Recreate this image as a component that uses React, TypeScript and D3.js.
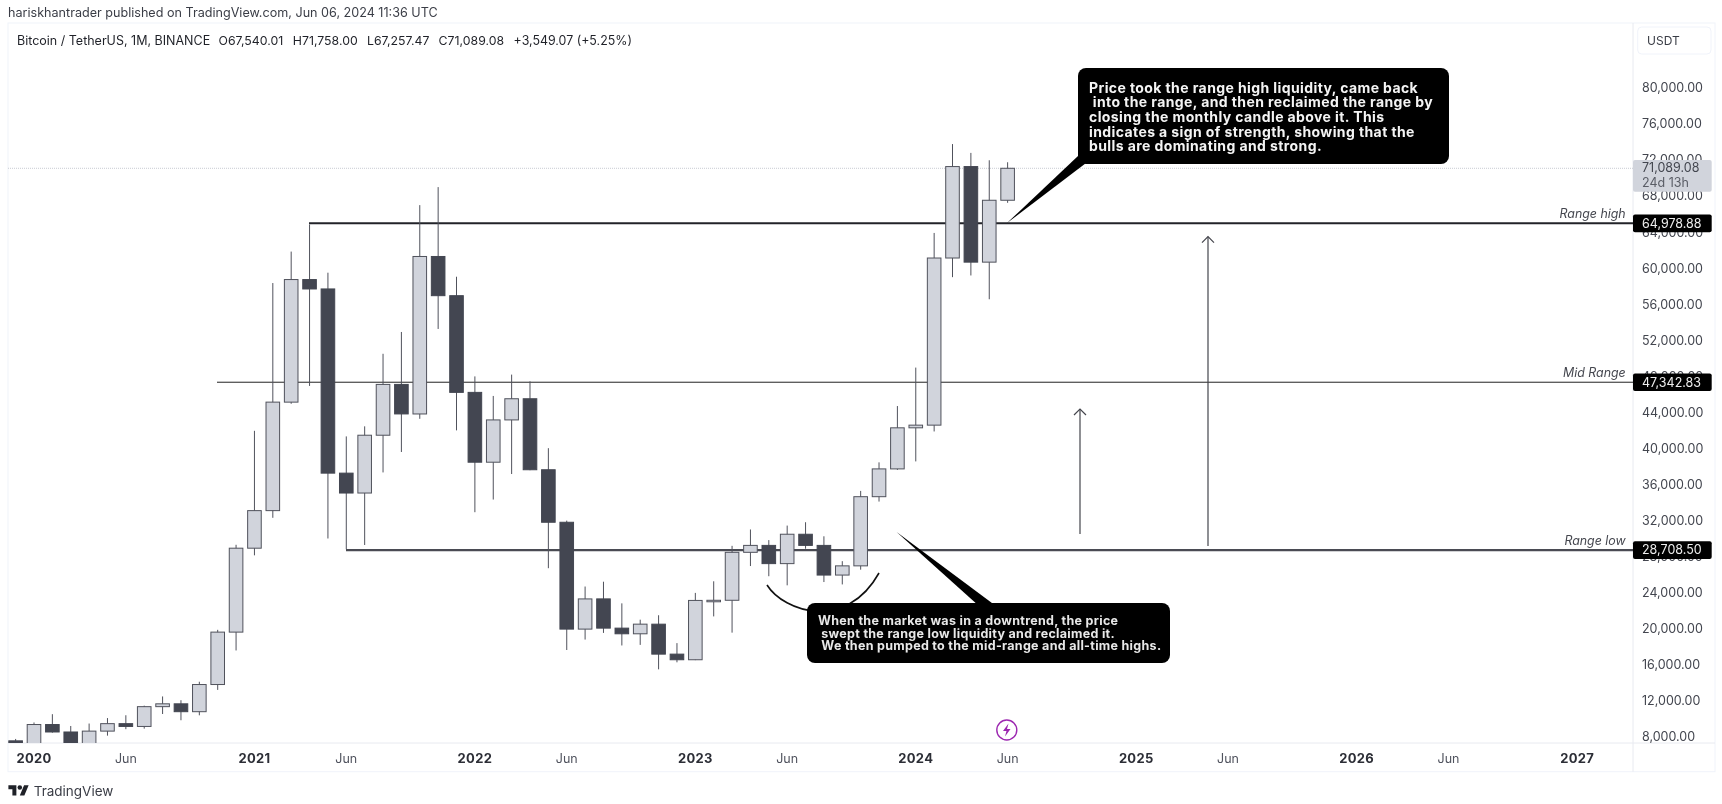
import React from "react";
import * as d3 from "d3";

const opens = [7541,7195,9351,8523,6412,8620,9448,9138,11335,11649,10776,13791,19608,28923,33092,45134,58739,57697,37253,35045,41461,47100,43820,61300,56950,46217,38466,43160,45510,37630,31801,19942,23296,20050,19422,20490,17165,16541,23125,23142,28465,29233,27210,30471,29232,25940,26962,34639,37723,42283,42580,61130,71280,60672,67540];
const highs = [7750,9578,10500,9188,9460,10067,10380,11444,12468,12050,14100,19863,29300,41950,58352,61844,64854,59500,41330,42448,50500,52920,67000,69000,59053,47990,45821,48189,47444,40023,31982,24668,25202,22800,20988,21480,18387,23960,25250,29184,31000,29820,31431,31804,30244,27483,35280,38450,44700,48969,63913,73777,72797,71979,71758];
const lows = [6435,6926,8445,3782,6150,8117,8833,8893,10518,9825,10374,13195,17572,28130,32296,44950,46930,30000,28805,29278,37332,39600,43283,53256,42000,32917,34322,37155,37578,26700,17622,18781,19520,18125,18190,15476,16256,16499,21351,19549,26942,25811,24800,28861,25166,24901,26538,34097,37615,38555,41879,59005,59191,56552,67257];
const closes = [7195,9352,8523,6410,8620,9448,9138,11335,11649,10776,13791,19608,28923,33092,45135,58740,57694,37253,35045,41461,47100,43824,61300,56950,46217,38466,43160,45510,37630,31801,19942,23293,20050,19423,20491,17164,16542,23125,23142,28465,29233,27210,30472,29232,25940,26962,34639,37723,42283,42580,61130,71280,60672,67540,71089];
const firstMonthIndex = -1;

const priceTicks = [80000,76000,72000,68000,64000,60000,56000,52000,48000,44000,40000,36000,32000,28000,24000,20000,16000,12000,8000];
const yearLabels = ["2020","2021","2022","2023","2024","2025","2026","2027"];
const midYearLabel = "Jun";
const rangeNames = ["Range high","Mid Range","Range low"];
const rangeValues = [64978.88,47342.83,28708.5];
const lastClose = 71089.08;
const calloutTop = [
  "Price took the range high liquidity, came back",
  " into the range, and then reclaimed the range by",
  "closing the monthly candle above it. This",
  "indicates a sign of strength, showing that the",
  "bulls are dominating and strong.",
];
const calloutBottom = [
  "When the market was in a downtrend, the price",
  " swept the range low liquidity and reclaimed it.",
  " We then pumped to the mid-range and all-time highs.",
];
const ohlcLegend: [number, string][] = [[218.5,"O67,540.01"],[292.8,"H71,758.00"],[367,"L67,257.47"],[438.6,"C71,089.08"]];
const changeLegend = "+3,549.07 (+5.25%)";

const x = d3.scaleLinear().domain([0, 84]).range([34, 1577.1]);
const y = d3.scaleLinear().domain([8000, 80000]).range([736.7, 88]);

const W = 1722, H = 804, paneL = 8, paneT = 23, paneR = 1633, paneB = 743, outerR = 1715, axisB = 771.7;
const font = "Inter, 'Noto Sans', sans-serif";
const fmt = d3.format(",.2f");
const UP = "#d1d4dc", DOWN = "#434651", EDGE = "#50525c";

export default function App() {
  const bw = 13.6;
  return (
    <svg width={W} height={H} viewBox={`0 0 ${W} ${H}`} style={{ position: "absolute", left: 0, top: 0, background: "#fff", display: "block", filter: "blur(0.4px)" }} fontFamily={font}>
      <defs>
        <clipPath id="pane"><rect x={paneL} y={paneT} width={paneR - paneL} height={paneB - paneT} /></clipPath>
      </defs>
      <text x={8} y={16.5} fontSize={12.6} fill="#3a3d46">hariskhantrader published on TradingView.com, Jun 06, 2024 11:36 UTC</text>
      <rect x={paneL} y={paneT} width={outerR - paneL} height={axisB - paneT} fill="none" stroke="#f0f3fa" />
      <line x1={paneR} x2={paneR} y1={paneT} y2={axisB} stroke="#e8eaf0" />
      <line x1={paneL} x2={outerR} y1={paneB} y2={paneB} stroke="#e8eaf0" />

      <text x={17} y={44.5} fontSize={12.5} fill="#1f2128">Bitcoin / TetherUS, 1M, BINANCE</text>
      {ohlcLegend.map(([lx, t]) => <text key={t} x={lx} y={44.5} fontSize={12.3} fill="#1f2128">{t}</text>)}
      <text x={513.6} y={44.5} fontSize={12.4} fill="#1f2128">{changeLegend}</text>

      <line x1={paneL} x2={paneR} y1={y(lastClose)} y2={y(lastClose)} stroke="#c9cbd3" strokeDasharray="1 1" />

      {/* horizontal levels below candles */}
      <line x1={309} x2={paneR} y1={y(rangeValues[0])} y2={y(rangeValues[0])} stroke="#222329" strokeWidth={2} />
      <line x1={217} x2={paneR} y1={y(rangeValues[1])} y2={y(rangeValues[1])} stroke="#222" strokeWidth={1} />
      <line x1={346} x2={paneR} y1={y(rangeValues[2])} y2={y(rangeValues[2])} stroke="#4a4b53" strokeWidth={2.2} />

      <g clipPath="url(#pane)">
        {opens.map((o, k) => {
          const i = k + firstMonthIndex;
          const c = closes[k];
          const up = c >= o;
          const cx = x(i);
          const top = y(Math.max(o, c));
          const bot = y(Math.min(o, c));
          return (
            <g key={k}>
              <line x1={cx} x2={cx} y1={y(highs[k])} y2={y(lows[k])} stroke={EDGE} strokeWidth={1} />
              <rect x={cx - bw / 2} width={bw} y={top} height={Math.max(bot - top, 1.5)} fill={up ? UP : DOWN} stroke={up ? EDGE : DOWN} strokeWidth={1} />
            </g>
          );
        })}
      </g>

      {/* arrows */}
      {[[1208, 236.7, 546], [1080, 409, 534]].map(([ax, t, b]) => (
        <g key={ax} fill="none" stroke="#44454c" strokeWidth={1.2}>
          <line x1={ax} x2={ax} y1={t} y2={b} />
          <path d={`M${ax - 6},${t + 6}L${ax},${t}L${ax + 6},${t + 6}`} />
        </g>
      ))}

      {/* sweep arc */}
      <path d="M767,585C784,612 846,632 879,573" fill="none" stroke="#111" strokeWidth={1.6} />

      {/* callouts */}
      <path d="M1078,156L1007,223L1090,160Z" fill="#000" />
      <rect x={1078} y={68} width={371} height={96} rx={8} fill="#000" />
      {calloutTop.map((t, i) => (
        <text key={t} x={1089} y={87.6 + i * 14.67} dy="0.35em" fontSize={14} letterSpacing={0.4} fontWeight={700} fill="#f4f4f4" style={{ whiteSpace: "pre" }}>{t}</text>
      ))}
      <path d="M979,606L896.6,532L996,606Z" fill="#000" />
      <rect x={807} y={603} width={363} height={60} rx={8} fill="#000" />
      {calloutBottom.map((t, i) => (
        <text key={t} x={818} y={620.7 + i * 12.5} dy="0.35em" fontSize={12.5} letterSpacing={0.3} fontWeight={700} fill="#e8e8e8" style={{ whiteSpace: "pre" }}>{t}</text>
      ))}

      {/* lightning */}
      <circle cx={1006.8} cy={730} r={10} fill="#fff" stroke="#9c27b0" strokeWidth={1.4} />
      <path d="M1008.5,723.5L1003,731H1006.5L1005,736.5L1010.5,729H1007Z" fill="#9c27b0" />

      {/* price axis */}
      {priceTicks.map((v) => (
        <text key={v} x={1642} y={y(v)} dy="0.35em" fontSize={12.5} fill="#43464f">{fmt(v)}</text>
      ))}
      <rect x={1637.7} y={27} width={73.3} height={27} rx={4} fill="#fff" stroke="#f0f3fa" />
      <text x={1647} y={41} dy="0.35em" fontSize={12} fill="#3a3d46">USDT</text>

      <rect x={paneR} y={160} width={78.7} height={31.7} rx={2} fill={UP} />
      <text x={1642} y={168} dy="0.35em" fontSize={12.5} fill="#43464f">{fmt(lastClose)}</text>
      <text x={1642} y={182.7} dy="0.35em" fontSize={12.5} fill="#5a5d66">24d 13h</text>

      {rangeValues.map((v, i) => (
        <g key={v}>
          <rect x={paneR} y={y(v) - 8.8} width={78.7} height={17.6} rx={2} fill="#000" />
          <text x={1642} y={y(v)} dy="0.35em" fontSize={12.5} fill="#eee">{fmt(v)}</text>
          <text x={1625.7} y={y(v) - 9.5} dy="0.35em" textAnchor="end" fontSize={12.4} fontStyle="italic" fill="#45474f">{rangeNames[i]}</text>
        </g>
      ))}

      {/* time axis */}
      {yearLabels.map((t, i) => (
        <text key={t} x={x(i * 12)} y={758.7} dy="0.35em" textAnchor="middle" fontSize={13} letterSpacing={0.3} fontWeight={700} fill="#2c2e36">{t}</text>
      ))}
      {yearLabels.slice(0, -1).map((t, i) => (
        <text key={t} x={x(i * 12 + 5)} y={758.7} dy="0.35em" textAnchor="middle" fontSize={12.5} fill="#50535e">{midYearLabel}</text>
      ))}

      {/* logo */}
      <g transform="translate(8.4,783) scale(0.57)" fill="#1f2128">
        <path d="M14 22H7V11H0V4h14v18zM28 22h-8l7.5-18h8L28 22z" />
        <circle cx={20} cy={8} r={4} />
      </g>
      <text x={33.7} y={791} dy="0.35em" fontSize={13.5} fill="#3a3d46">TradingView</text>
    </svg>
  );
}
